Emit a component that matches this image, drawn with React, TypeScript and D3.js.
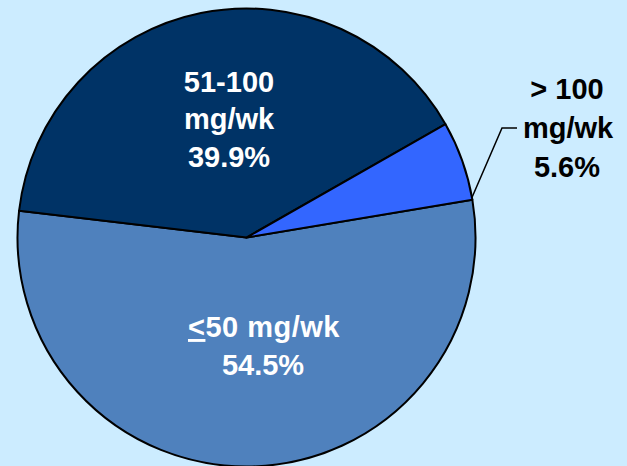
import React from "react";
import * as d3 from "d3";

const categories = ["≤50 mg/wk", "51-100 mg/wk", "> 100 mg/wk"];
const values = [54.5, 39.9, 5.6];
const colors = ["#4F81BD", "#003366", "#3366FF"];

const W = 627;
const H = 466;

export default function App() {
  const cx = 246.5;
  const cy = 237.5;
  const r = 229;
  const start = (80.5 * Math.PI) / 180;
  const pie = d3
    .pie<number>()
    .sort(null)
    .value((d) => d)
    .startAngle(start)
    .endAngle(start + 2 * Math.PI);
  const arcs = pie(values);
  const arc = d3.arc<d3.PieArcDatum<number>>().innerRadius(0).outerRadius(r);

  const small = arcs[2];
  const edge = [Math.sin(small.endAngle - 0.01) * r, -Math.cos(small.endAngle - 0.01) * r];
  const elbow = [502 - cx, 128 - cy];
  const end = [517 - cx, 128 - cy];

  const font = "'Liberation Sans', Arial, sans-serif";

  return (
    <svg
      width={W}
      height={H}
      style={{ position: "absolute", left: 0, top: 0, display: "block" }}
    >
      <rect width={W} height={H} fill="#CCECFF" />
      <g transform={`translate(${cx},${cy})`}>
        {arcs.map((a, i) => (
          <path
            key={categories[i]}
            d={arc(a) || ""}
            fill={colors[i]}
            stroke="#000"
            strokeWidth={2}
            strokeLinejoin="round"
          />
        ))}
        <polyline
          points={`${edge[0]},${edge[1]} ${elbow[0]},${elbow[1]} ${end[0]},${end[1]}`}
          fill="none"
          stroke="#000"
          strokeWidth={1.5}
        />
      </g>
      <g fontFamily={font} fontWeight="bold" textAnchor="middle">
        <g fill="#fff" fontSize={29}>
          <text x={229} y={92}>51-100</text>
          <text x={229} y={129}>mg/wk</text>
          <text x={229} y={167}>39.9%</text>
          <text x={264} y={337} letterSpacing={0.5}>
            <tspan textDecoration="underline">&lt;</tspan>50 mg/wk
          </text>
          <text x={263} y={375}>54.5%</text>
        </g>
        <g fill="#000" fontSize={29}>
          <text x={567} y={99}>&gt; 100</text>
          <text x={568} y={138}>mg/wk</text>
          <text x={567} y={177}>5.6%</text>
        </g>
      </g>
    </svg>
  );
}
